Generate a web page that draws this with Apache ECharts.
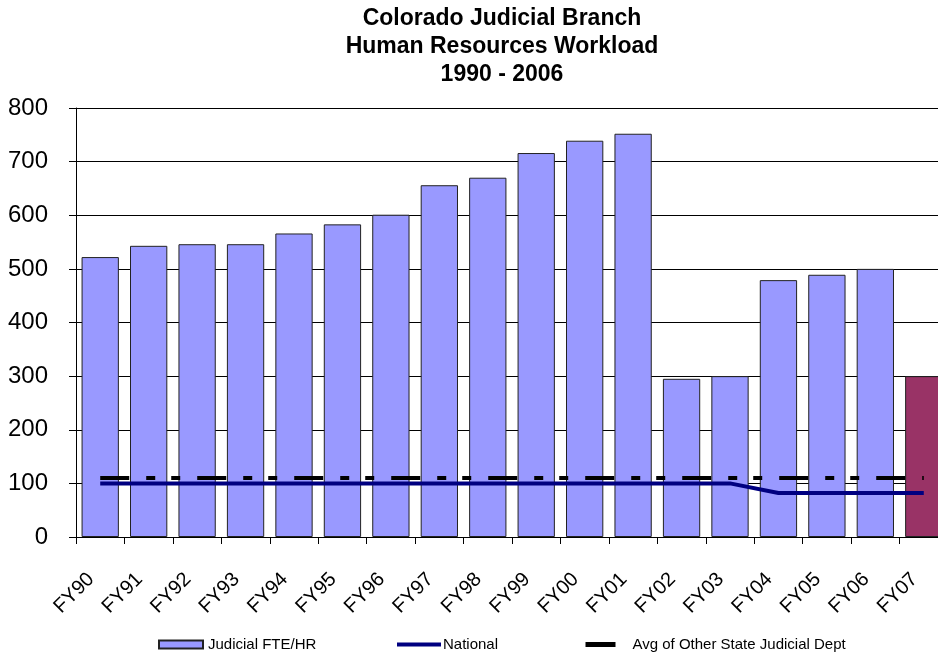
<!DOCTYPE html>
<html>
<head>
<meta charset="utf-8">
<script src="https://cdn.jsdelivr.net/npm/echarts@6/dist/echarts.min.js"></script>
<style>
  html, body { margin: 0; padding: 0; background: #fff; overflow: hidden; }
  /* the original picture cuts the last bar, so the chart is a bit wider than the window */
  #chart { width: 948px; height: 655px; }
</style>
</head>
<body>
<div id="chart"></div>
<script>
// fiscal years on the x axis
const years = ['FY90', 'FY91', 'FY92', 'FY93', 'FY94', 'FY95', 'FY96', 'FY97', 'FY98',
               'FY99', 'FY00', 'FY01', 'FY02', 'FY03', 'FY04', 'FY05', 'FY06', 'FY07'];
// Judicial FTE per HR staff
const judicialFte = [522, 543, 546, 546, 566, 583, 601, 656, 670,
                     716, 739, 752, 295, 300, 479, 489, 500, 300];
// national ratio
const national = [100, 100, 100, 100, 100, 100, 100, 100, 100,
                  100, 100, 100, 100, 100, 82, 82, 82, 82];
// avg of other state judicial departments
const otherStates = [110, 110, 110, 110, 110, 110, 110, 110, 110,
                     110, 110, 110, 110, 110, 110, 110, 110, 110];
const yTicks = { min: 0, max: 800, step: 100 };

const font = 'Liberation Sans, Arial, sans-serif';

let barData = judicialFte.map((v, i) => {
    // last year drawn in another colour
    if (i == judicialFte.length - 1) {
        return { value: v, itemStyle: { color: '#993366' } };
    }
    return v;
});

let legendText = { fontFamily: font, fontSize: 15, color: '#000' };

let myChart = echarts.init(document.getElementById('chart'));
let options = {
    animation: false,
    title: {
        text: 'Colorado Judicial Branch\nHuman Resources Workload\n1990 - 2006',
        left: 497,
        top: 0,
        textAlign: 'center',
        textStyle: {
            fontFamily: font,
            fontWeight: 'bold',
            fontSize: 23,
            lineHeight: 28,
            color: '#000'
        }
    },
    legend: [
        {
            data: ['Judicial FTE/HR'],
            left: 158, top: 637, padding: 0,
            icon: 'rect', itemWidth: 44, itemHeight: 8,
            textStyle: legendText
        },
        {
            data: ['National'],
            left: 397, top: 637, padding: 0,
            icon: 'rect', itemWidth: 44, itemHeight: 4,
            itemStyle: { color: '#000080' },
            textStyle: Object.assign({}, legendText, { padding: [0, 0, 0, -3] })
        },
        {
            // the key shows a solid black block, so a thick solid line with a tiny symbol
            data: ['Avg of Other State Judicial Dept'],
            left: 583, top: 637, padding: 0,
            itemWidth: 30, itemHeight: 1,
            itemStyle: { color: '#000', borderWidth: 0 },
            lineStyle: { type: 'solid', color: '#000', width: 5 },
            textStyle: Object.assign({}, legendText, { padding: [0, 0, 0, 12] })
        }
    ],
    grid: {
        left: 76,
        right: 0,
        top: 108,
        bottom: 118
    },
    xAxis: {
        type: 'category',
        data: years,
        axisLine: { lineStyle: { color: '#000', width: 1 } },
        axisTick: { show: true, length: 7, lineStyle: { color: '#000' } },
        axisLabel: {
            rotate: 45,
            margin: 30,
            padding: [0, 13, 24, 0],
            fontFamily: font,
            fontSize: 20,
            color: '#000'
        }
    },
    yAxis: {
        type: 'value',
        min: yTicks.min,
        max: yTicks.max,
        interval: yTicks.step,
        axisLine: { show: true, lineStyle: { color: '#000', width: 1 } },
        axisTick: { show: true, length: 7, lineStyle: { color: '#000' } },
        splitLine: { show: true, lineStyle: { color: '#000', width: 1 } },
        axisLabel: {
            margin: 28,
            fontFamily: font,
            fontSize: 24,
            color: '#000'
        }
    },
    series: [
        {
            name: 'Judicial FTE/HR',
            type: 'bar',
            data: barData,
            barCategoryGap: '23%',
            itemStyle: {
                color: '#9999ff',
                borderColor: '#222',
                borderWidth: 1
            }
        },
        {
            name: 'National',
            type: 'line',
            data: national,
            symbol: 'none',
            z: 4,
            itemStyle: { color: '#000080' },
            lineStyle: { color: '#000080', width: 4 }
        },
        {
            name: 'Avg of Other State Judicial Dept',
            type: 'line',
            data: otherStates,
            symbol: 'rect',
            showSymbol: false,
            z: 5,
            itemStyle: { color: '#000' },
            lineStyle: {
                color: '#000',
                width: 4,
                type: [29, 17, 9, 16, 9, 17]
            }
        }
    ]
};
myChart.setOption(options);
</script>
</body>
</html>
